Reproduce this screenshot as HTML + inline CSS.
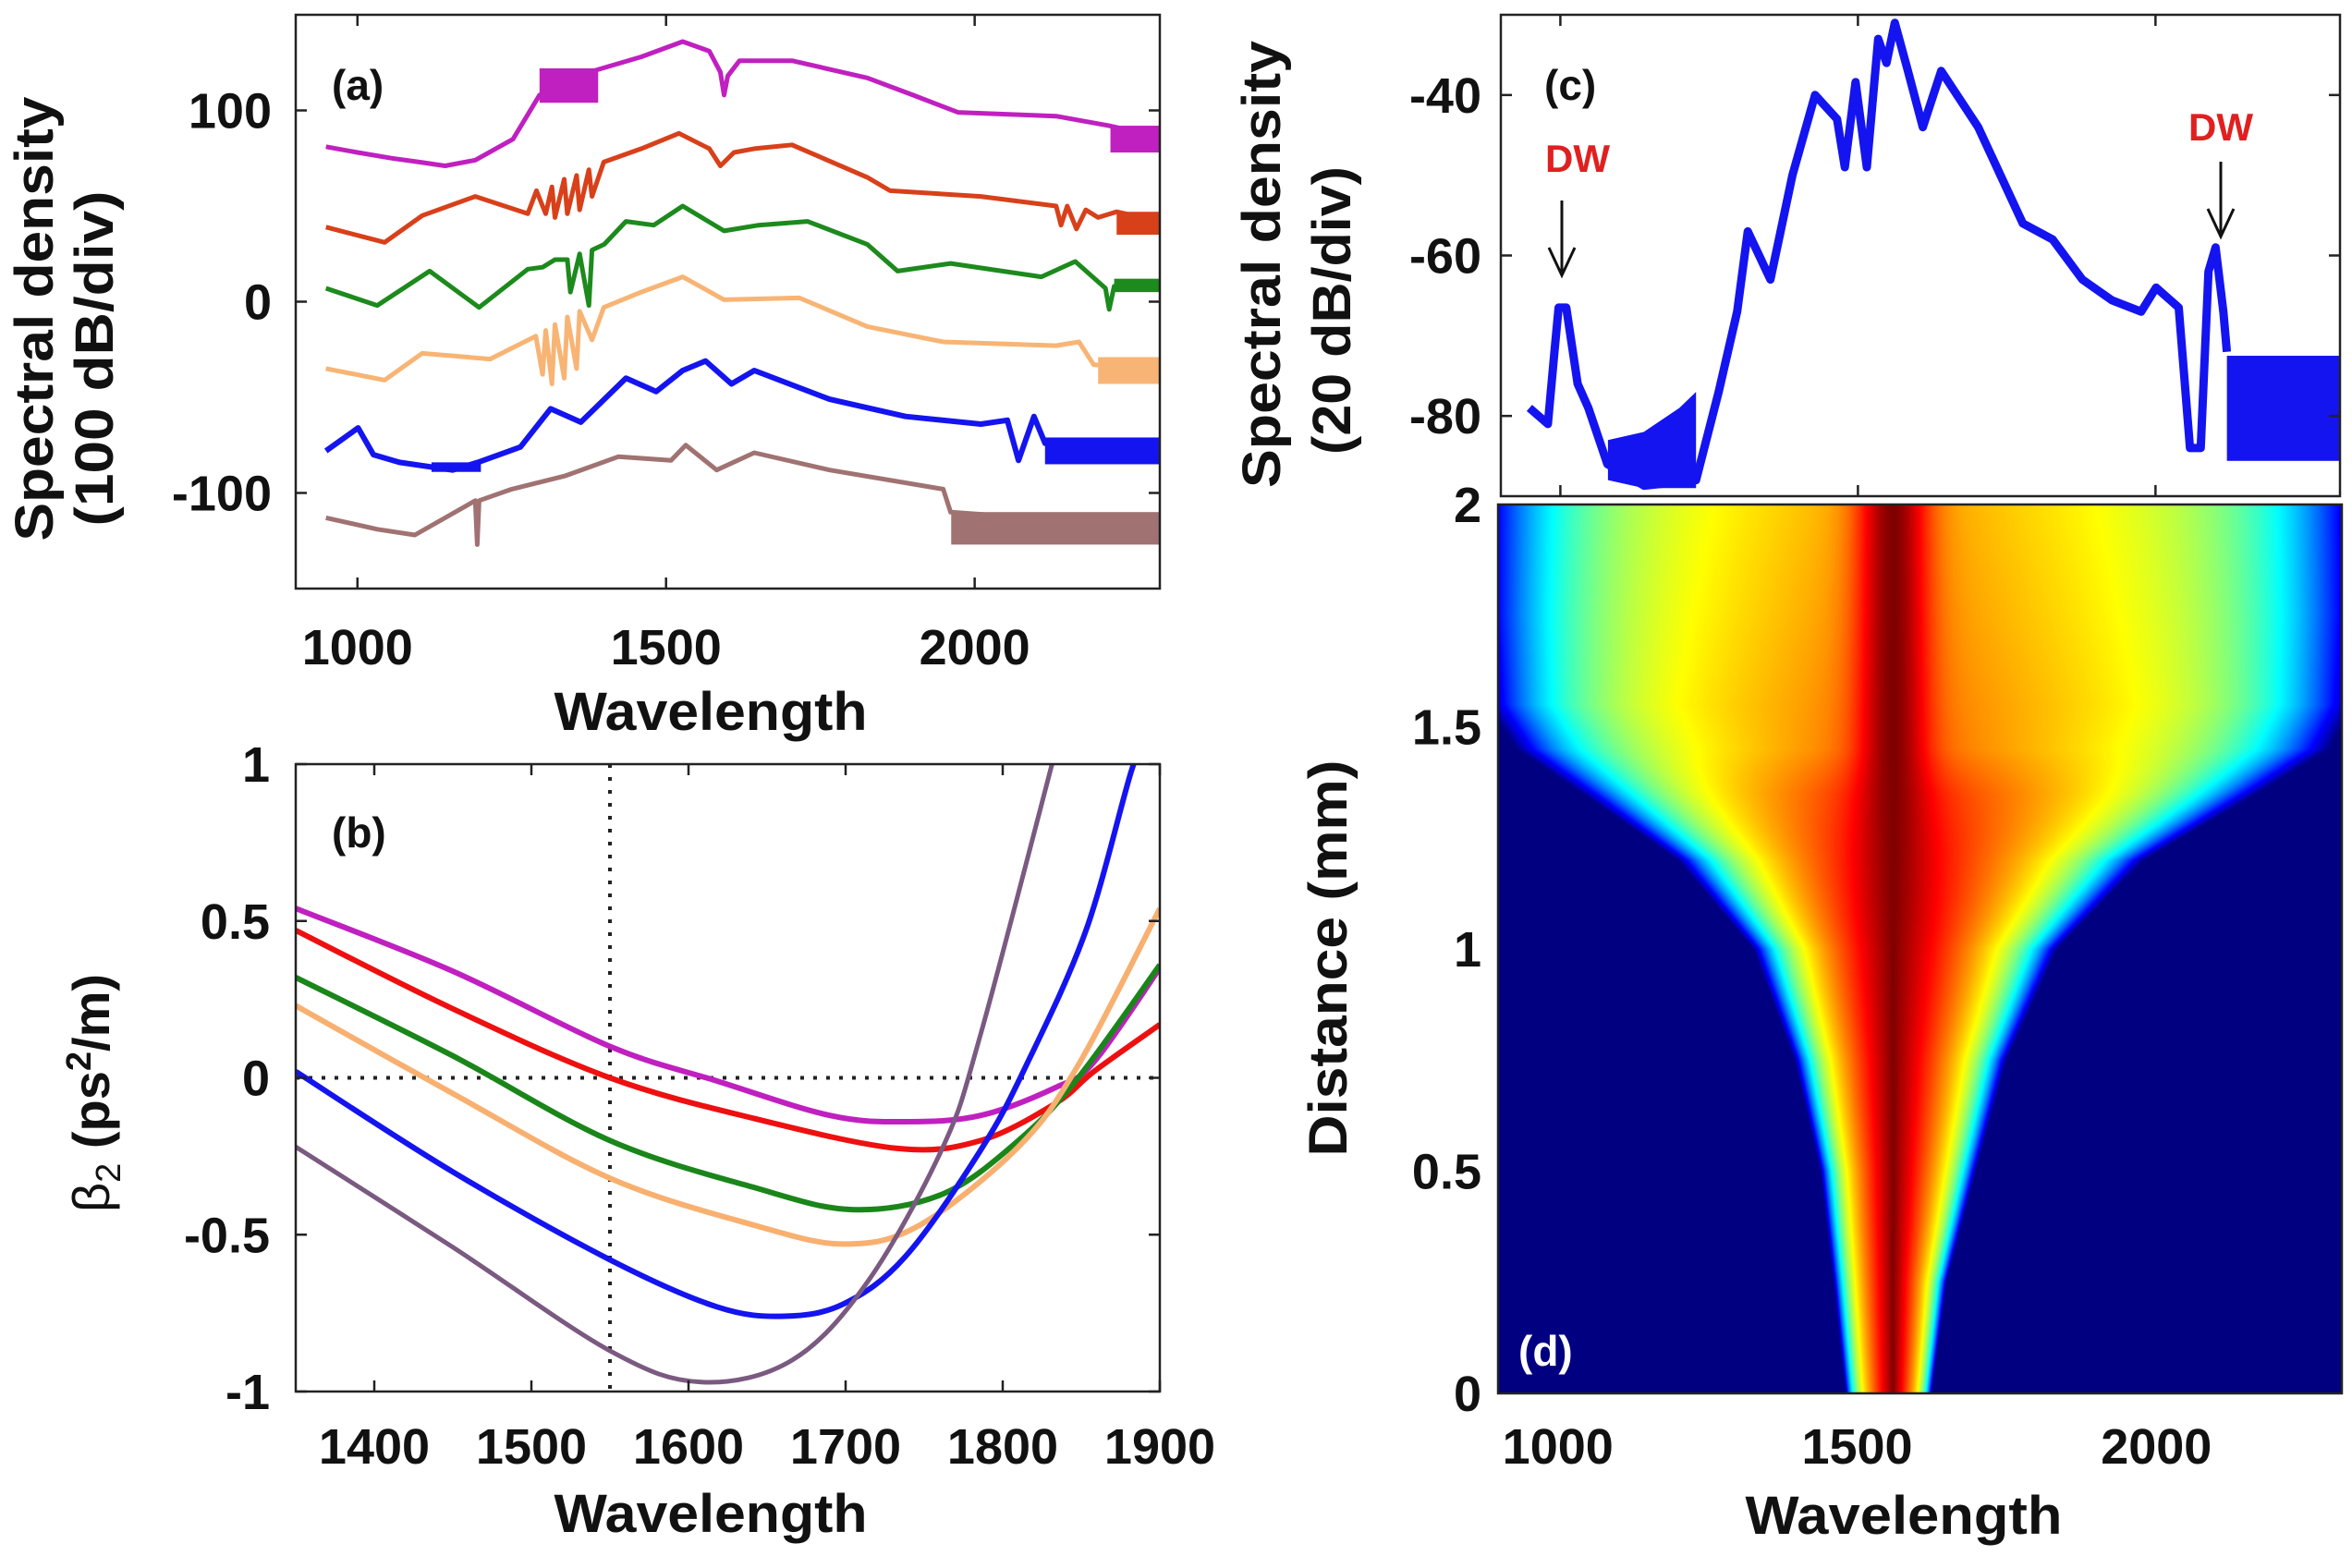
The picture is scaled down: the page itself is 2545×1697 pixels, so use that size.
<!DOCTYPE html>
<html><head><meta charset="utf-8"><style>
html,body{margin:0;padding:0;background:#fff;}
#wrap{position:relative;width:2545px;height:1697px;overflow:hidden;}
svg{position:absolute;left:0;top:0;}
canvas{position:absolute;}
text{font-family:"Liberation Sans",sans-serif;font-weight:bold;fill:#111;}
</style></head><body>
<div id="wrap">
<canvas id="heat" style="left:1621px;top:546px" width="913" height="962"></canvas>
<svg id="svg" width="2545" height="1697" viewBox="0 0 2545 1697"></svg>
</div>
<script>
// ---------- Panel (a) data ----------
const aXTicks=[1000,1500,2000];
const aYTicks=[-100,0,100];
const aYTickLabels=["-100","0","100"];
const magW=[949,1000,1056,1100,1142,1191,1252,1295,1340,1386,1460,1527,1570,1588,1594,1600,1619,1704,1826,1900,1973,2132,2218,2300];
const magV=[81,78,75,73,71,74,85,108,114,121,128,136,131,120,108,118,126,126,117,108,99,97,92,86];
const magBands=[[1295,1390,122,104],[2220,2300,92,78]];
const redW=[949,1044,1105,1191,1276,1290,1300,1305,1315,1320,1335,1340,1355,1360,1375,1380,1399,1460,1521,1570,1588,1610,1643,1704,1826,1863,2010,2132,2140,2150,2165,2180,2200,2230,2300];
const redV=[39,31,45,55,46,58,50,46,60,44,64,46,66,48,69,55,73,80,88,80,71,78,80,82,65,58,55,50,40,50,38,48,44,47,42];
const redBands=[[2230,2300,47,35]];
const grnW=[949,1032,1117,1197,1276,1300,1320,1340,1345,1360,1375,1380,1400,1435,1480,1527,1594,1650,1729,1826,1875,1961,2108,2163,2212,2218,2226,2300];
const grnV=[7,-2,16,-3,17,18,22,22,5,25,-2,27,30,42,40,50,37,40,42,30,16,20,13,21,7,-4,8,9];
const grnBands=[[2226,2300,12,5]];
const orgW=[949,1044,1105,1215,1289,1300,1305,1315,1320,1335,1340,1355,1360,1380,1399,1460,1527,1594,1716,1826,1949,2132,2169,2193,2300];
const orgV=[-35,-41,-27,-30,-18,-38,-15,-43,-12,-40,-8,-35,-5,-20,-3,5,13,1,2,-13,-21,-23,-21,-33,-35];
const orgBands=[[2200,2300,-29,-43]];
const bluW=[949,1001,1026,1068,1154,1195,1264,1313,1362,1435,1484,1527,1564,1606,1643,1765,1888,2010,2053,2071,2096,2114,2300];
const bluV=[-78,-66,-80,-84,-88,-84,-76,-56,-63,-40,-47,-36,-31,-43,-36,-51,-60,-64,-62,-83,-60,-74,-78];
const bluBands=[[1120,1200,-84,-89],[2114,2300,-71,-85]];
const brnW=[949,1032,1093,1191,1194,1197,1250,1337,1423,1508,1532,1582,1643,1765,1949,1961,2300];
const brnV=[-113,-119,-122,-104,-127,-104,-98,-91,-81,-83,-75,-88,-79,-88,-98,-110,-118];
const brnBands=[[1962,2300,-110,-127]];

// ---------- Panel (b) data ----------
const bXTicks=[1400,1500,1600,1700,1800,1900];
const bYTicks=[-1,-0.5,0,0.5,1];
const bYTickLabels=["-1","-0.5","0","0.5","1"];
const bW_mag=[1350,1450,1550,1618,1690,1738,1786,1834,1858,1900];
const bV_mag=[0.54,0.34,0.10,-0.01,-0.12,-0.14,-0.12,-0.03,0.05,0.35];
const bW_red=[1350,1450,1550,1642,1733,1786,1834,1858,1900];
const bV_red=[0.47,0.22,0.0,-0.13,-0.225,-0.20,-0.08,0.02,0.17];
const bW_grn=[1350,1450,1550,1642,1704,1762,1810,1848,1900];
const bV_grn=[0.32,0.07,-0.20,-0.35,-0.42,-0.37,-0.20,0.0,0.36];
const bW_org=[1350,1450,1550,1642,1699,1747,1810,1848,1900];
const bV_org=[0.23,-0.05,-0.32,-0.47,-0.53,-0.47,-0.22,0.04,0.54];
const bW_blu=[1350,1450,1550,1618,1661,1699,1738,1786,1815,1853,1882,1890];
const bV_blu=[0.02,-0.30,-0.58,-0.73,-0.76,-0.72,-0.57,-0.23,0.04,0.47,0.98,1.05];
const bW_pur=[1350,1450,1550,1608,1666,1714,1762,1786,1834];
const bV_pur=[-0.22,-0.54,-0.87,-0.97,-0.90,-0.65,-0.22,0.14,1.05];
const bDotX=1550;

// ---------- Panel (c) data ----------
const cXTicks=[1000,1500,2000];
const cYTicks=[-80,-60,-40];
const cYTickLabels=["-80","-60","-40"];
const cW=[948,979,990,997,1010,1029,1047,1079,1141,1228,1266,1297,1315,1353,1390,1428,1465,1478,1496,1515,1534,1548,1562,1584,1609,1640,1702,1777,1827,1877,1927,1976,2001,2039,2058,2076,2089,2101,2114,2120];
const cV=[-79,-81,-72,-66.5,-66.5,-76,-79,-86,-88.7,-88,-77,-67,-57,-63,-50,-40,-43,-49,-38.4,-49,-33,-36,-31,-37,-44,-37,-44,-56,-58,-63,-65.6,-67,-64,-66.5,-84,-84,-62,-59,-67,-72];
const cBandW=[1080,1140,1200,1228,1228,1200,1140,1080];
const cBandV=[-83,-82,-79,-77,-89,-89,-89,-88];
const cBands=[[2120,2310,-72.5,-85.6]];

// ---------- Panel (d) data ----------
const dXTicks=[1000,1500,2000];
const dYTicks=[0,0.5,1,1.5,2];
const dYTickLabels=["0","0.5","1","1.5","2"];
const zRows=[0,0.25,0.5,0.75,1.0,1.2,1.35,1.45,1.55,1.75,2.0];
const leftEdge=[1480,1460,1438,1395,1326,1200,1040,930,880,870,870];
const rightEdge=[1625,1650,1699,1750,1835,1980,2170,2290,2330,2340,2340];
const plateau=[1,1,1,1,1,0.95,0.88,0.8,0.78,0.76,0.74];
const linK=[0.55,0.55,0.55,0.55,0.55,0.5,0.45,0.4,0.35,0.35,0.35];
const centerW=1560;

// ---------- helpers ----------
const NS="http://www.w3.org/2000/svg";
const svg=document.getElementById('svg');
function el(tag,attrs,parent){const e=document.createElementNS(NS,tag);for(const k in attrs)e.setAttribute(k,attrs[k]);(parent||svg).appendChild(e);return e;}
function lin(d0,d1,r0,r1){return v=>r0+(v-d0)/(d1-d0)*(r1-r0);}
function txt(s,x,y,size,anchor,parent,name,extra){const t=el('text',Object.assign({x:x,y:y,'font-size':size,'text-anchor':anchor},extra||{}),parent);t.textContent=s;


return t;}
function frame(g,x0,y0,x1,y1,name){const r=el('rect',{x:x0,y:y0,width:x1-x0,height:y1-y0,fill:'none',stroke:'#222','stroke-width':2.5},g);

}
function series(g,W,V,sx,sy,color,w,name){const pts=W.map((x,i)=>sx(x).toFixed(1)+','+sy(V[i]).toFixed(1)).join(' ');
const p=el('polyline',{points:pts,fill:'none',stroke:color,'stroke-width':w,'stroke-linejoin':'round'},g);

}
function smooth(g,W,V,sx,sy,color,w,name){const P=W.map((x,i)=>[sx(x),sy(V[i])]);let d='M'+P[0][0]+','+P[0][1];
for(let i=0;i<P.length-1;i++){const p0=P[Math.max(0,i-1)],p1=P[i],p2=P[i+1],p3=P[Math.min(P.length-1,i+2)];
const c1=[p1[0]+(p2[0]-p0[0])/6,p1[1]+(p2[1]-p0[1])/6],c2=[p2[0]-(p3[0]-p1[0])/6,p2[1]-(p3[1]-p1[1])/6];
d+=` C${c1[0].toFixed(1)},${c1[1].toFixed(1)} ${c2[0].toFixed(1)},${c2[1].toFixed(1)} ${p2[0].toFixed(1)},${p2[1].toFixed(1)}`;}
const p=el('path',{d:d,fill:'none',stroke:color,'stroke-width':w},g);

}
function bands(g,B,sx,sy,color,name){B.forEach(b=>{const r=el('rect',{x:sx(b[0]),y:sy(b[2]),width:sx(b[1])-sx(b[0]),height:sy(b[3])-sy(b[2]),fill:color},g);

});}
function xticks(g,T,sx,y0,y1,labelY,name){T.forEach(t=>{el('line',{x1:sx(t),x2:sx(t),y1:y1,y2:y1-12,stroke:'#222','stroke-width':2.5},g);el('line',{x1:sx(t),x2:sx(t),y1:y0,y2:y0+12,stroke:'#222','stroke-width':2.5},g);
if(labelY)txt(String(t),sx(t),labelY,54,'middle',g,name);});}
function yticks(g,T,L,sy,x0,x1,labelX,name){T.forEach((t,i)=>{el('line',{x1:x0,x2:x0+12,y1:sy(t),y2:sy(t),stroke:'#222','stroke-width':2.5},g);el('line',{x1:x1,x2:x1-12,y1:sy(t),y2:sy(t),stroke:'#222','stroke-width':2.5},g);
txt(L[i],labelX,sy(t)+19,54,'end',g,name);});}
function rot(s,cx,cy,size,len,parent,name){const t=el('text',{x:0,y:0,'font-size':size,'text-anchor':'middle',transform:`translate(${cx},${cy}) rotate(-90)`,textLength:len,lengthAdjust:'spacingAndGlyphs'},parent);t.textContent=s;


return t;}

// ---------- Panel (a) ----------
const gA=el('g',{});


const axA=lin(900,2300,320,1255), ayA=lin(-150,150,637,16);
bands(gA,magBands,axA,ayA,'#c020c0','magenta-noise-band');
bands(gA,redBands,axA,ayA,'#d8401a','red-noise-band');
bands(gA,grnBands,axA,ayA,'#1c8a1c','green-noise-band');
bands(gA,orgBands,axA,ayA,'#f8b474','orange-noise-band');
bands(gA,bluBands,axA,ayA,'#1414f0','blue-noise-band');
bands(gA,brnBands,axA,ayA,'#a07272','brown-noise-band');
series(gA,magW,magV,axA,ayA,'#c020c0',5,'spectrum-magenta');
series(gA,redW,redV,axA,ayA,'#d8401a',5,'spectrum-red');
series(gA,grnW,grnV,axA,ayA,'#1c8a1c',5,'spectrum-green');
series(gA,orgW,orgV,axA,ayA,'#f8b474',5,'spectrum-orange');
series(gA,bluW,bluV,axA,ayA,'#1414f0',6,'spectrum-blue');
series(gA,brnW,brnV,axA,ayA,'#a07272',5,'spectrum-brown');
frame(gA,320,16,1255,637,'plot-frame-a');
xticks(gA,aXTicks,axA,16,637,719,'x-tick-label-a');
yticks(gA,aYTicks,aYTickLabels,ayA,320,1255,294,'y-tick-label-a');
txt('(a)',359,108,46,'start',gA,'panel-label-a');
txt('Wavelength',769,790,58,'middle',gA,'x-axis-title-a',{textLength:339,lengthAdjust:'spacingAndGlyphs'});
rot('Spectral density',57,345,58,481,gA,'y-axis-title-a');
rot('(100 dB/div)',122,388,58,363,gA,'y-axis-unit-a');

// ---------- Panel (b) ----------
const gB=el('g',{});


const axB=lin(1350,1900,320,1255), ayB=lin(-1,1,1506,827);
const clipB=el('clipPath',{id:'clipB'},gB);el('rect',{x:320,y:827,width:935,height:679},clipB);
const gBs=el('g',{'clip-path':'url(#clipB)'},gB);
el('line',{x1:axB(bDotX),x2:axB(bDotX),y1:827,y2:1506,stroke:'#222','stroke-width':4,'stroke-dasharray':'4 10'},gBs);
el('line',{x1:320,x2:1255,y1:ayB(0),y2:ayB(0),stroke:'#222','stroke-width':4,'stroke-dasharray':'4 10'},gBs);
smooth(gBs,bW_mag,bV_mag,axB,ayB,'#c020c0',6,'beta2-magenta');
smooth(gBs,bW_red,bV_red,axB,ayB,'#ee1010',6,'beta2-red');
smooth(gBs,bW_grn,bV_grn,axB,ayB,'#1a861a',6,'beta2-green');
smooth(gBs,bW_org,bV_org,axB,ayB,'#f8b070',6,'beta2-orange');
smooth(gBs,bW_blu,bV_blu,axB,ayB,'#1414f0',6,'beta2-blue');
smooth(gBs,bW_pur,bV_pur,axB,ayB,'#7a5a80',5,'beta2-purple');
frame(gB,320,827,1255,1506,'plot-frame-b');
xticks(gB,bXTicks,axB,827,1506,1584,'x-tick-label-b');
yticks(gB,bYTicks,bYTickLabels,ayB,320,1255,292,'y-tick-label-b');
txt('(b)',359,917,46,'start',gB,'panel-label-b');
txt('Wavelength',769,1658,58,'middle',gB,'x-axis-title-b',{textLength:339,lengthAdjust:'spacingAndGlyphs'});
const yb=el('text',{x:0,y:0,'font-size':56,'text-anchor':'middle',transform:'translate(118,1183) rotate(-90)'},gB);


yb.innerHTML='<tspan style="font-weight:normal">β</tspan><tspan font-size="38" dy="12" style="font-weight:normal">2</tspan><tspan dy="-12"> (ps</tspan><tspan font-size="38" dy="-20">2</tspan><tspan dy="20">/m)</tspan>';

// ---------- Panel (c) ----------
const gC=el('g',{});


const axC=lin(900,2310,1624,2532), ayC=lin(-90,-30,537,16);
const clipC=el('clipPath',{id:'clipC'},gC);el('rect',{x:1624,y:16,width:908,height:521},clipC);
const gCs=el('g',{'clip-path':'url(#clipC)'},gC);
const cpoly=el('polygon',{points:cBandW.map((w,i)=>axC(w).toFixed(1)+','+ayC(cBandV[i]).toFixed(1)).join(' '),fill:'#1414f0'},gCs);


bands(gCs,cBands,axC,ayC,'#1414f0','spectrum-c-noise-band');
series(gCs,cW,cV,axC,ayC,'#1414f0',9,'spectrum-c');
frame(gC,1624,16,2532,537,'plot-frame-c');
xticks(gC,cXTicks,axC,16,537,null,'x-tick-c');
yticks(gC,cYTicks,cYTickLabels,ayC,1624,2532,1603,'y-tick-label-c');
txt('(c)',1671,108,46,'start',gC,'panel-label-c');
rot('Spectral density',1385,286,58,484,gC,'y-axis-title-c');
rot('(20 dB/div)',1461,336,58,312,gC,'y-axis-unit-c');
txt('DW',1707,186,42,'middle',gC,'dw-label-left',{style:'fill:#e02020'});
txt('DW',2403,152,42,'middle',gC,'dw-label-right',{style:'fill:#e02020'});
[[1690,217,298,'dw-arrow-left'],[2403,175,256,'dw-arrow-right']].forEach(a=>{
 const p=el('path',{d:`M${a[0]},${a[1]} L${a[0]},${a[2]} M${a[0]-14},${a[2]-30} L${a[0]},${a[2]} L${a[0]+14},${a[2]-30}`,stroke:'#111','stroke-width':3,fill:'none'},gC);
 
 
});

// ---------- Panel (d) ----------
const gD=el('g',{});


const axD=lin(900,2310,1621,2534), ayD=lin(0,2,1508,546);
frame(gD,1621,546,2534,1508,'plot-frame-d');
dXTicks.forEach(t=>txt(String(t),axD(t),1584,54,'middle',gD,'x-tick-label-d'));
dYTicks.forEach((t,i)=>txt(dYTickLabels[i],1603,ayD(t)+19,54,'end',gD,'y-tick-label-d'));
txt('(d)',1643,1478,46,'start',gD,'panel-label-d',{style:'fill:#fff'});
txt('Wavelength',2060,1660,58,'middle',gD,'x-axis-title-d',{textLength:343,lengthAdjust:'spacingAndGlyphs'});
rot('Distance (mm)',1457,1037,58,429,gD,'y-axis-title-d');

// heatmap
(function(){
 const cv=document.getElementById('heat');const ctx=cv.getContext('2d');
 const W=cv.width,H=cv.height;const img=ctx.createImageData(W,H);
 const cl=v=>Math.max(0,Math.min(1,v));
 function interp(arr,z){for(let i=0;i<zRows.length-1;i++){if(z<=zRows[i+1]){const f=(z-zRows[i])/(zRows[i+1]-zRows[i]);return arr[i]+(arr[i+1]-arr[i])*f;}}return arr[arr.length-1];}
 for(let j=0;j<H;j++){
  const z=2*(1-j/(H-1));
  const L=interp(leftEdge,z),R=interp(rightEdge,z),P=interp(plateau,z),K=interp(linK,z);
  for(let i=0;i<W;i++){
   const w=900+i/(W-1)*1410;
   const t=w<centerW?(centerW-w)/(centerW-L):(w-centerW)/(R-centerW);
   let v=0;
   if(t<1){v=P*(1-K*t-(1-K)*Math.pow(t,6))+(1-P)*Math.exp(-Math.pow((w-centerW)/60,2));}
   v=cl(v);
   const r=cl(1.5-Math.abs(4*v-3)),g=cl(1.5-Math.abs(4*v-2)),b=cl(1.5-Math.abs(4*v-1));
   const k=(j*W+i)*4;img.data[k]=r*255;img.data[k+1]=g*255;img.data[k+2]=b*255;img.data[k+3]=255;
  }
 }
 ctx.putImageData(img,0,0);
})();
</script>
</body></html>
